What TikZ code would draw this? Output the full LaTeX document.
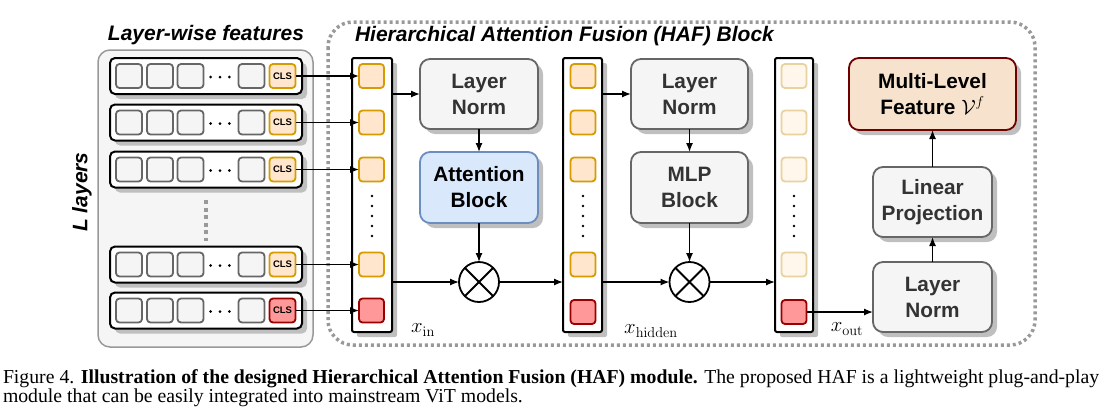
\documentclass[tikz,border=0pt]{standalone}
\usepackage[no-math]{fontspec}
\setmainfont{Liberation Serif}
\setsansfont{Liberation Sans}
\usetikzlibrary{arrows.meta,shadows,calc}
\definecolor{cgray}{HTML}{666666}
\definecolor{cfill}{HTML}{F5F5F5}
\definecolor{ctext}{HTML}{333333}
\definecolor{corange}{HTML}{D79B00}
\definecolor{cpeach}{HTML}{FFE6CC}
\definecolor{cdred}{HTML}{990000}
\definecolor{cpink}{HTML}{FF9999}
\definecolor{cfadeb}{HTML}{E8D29F}
\definecolor{cfadef}{HTML}{FFF6EC}
\definecolor{cblue}{HTML}{DAE8FC}
\definecolor{cblueb}{HTML}{6C8EBF}
\definecolor{cmlf}{HTML}{F7E3CD}
\definecolor{cmlfb}{HTML}{6F0000}
\definecolor{cpanel}{HTML}{999999}
\begin{document}
\begin{tikzpicture}[x=1pt,y=-1pt,
  every node/.style={inner sep=0pt,outer sep=0pt},
  font=\sffamily\bfseries,
  sh/.style={drop shadow={shadow xshift=5pt,shadow yshift=-5pt,fill=black!25,opacity=1}},
  rowbox/.style={draw=black,line width=2pt,fill=white,rounded corners=5pt,minimum width=192pt,minimum height=36pt,sh},
  tok/.style={draw=cgray,fill=cfill,line width=1.8pt,rounded corners=3.5pt,minimum width=26pt,minimum height=24pt},
  clstok/.style={tok,draw=corange,fill=cpeach,font=\sffamily\bfseries\fontsize{9.5}{10}\selectfont},
  clsred/.style={clstok,draw=cdred,fill=cpink},
  colbox/.style={draw=black,line width=2pt,fill=white,rounded corners=2pt,minimum height=274pt,sh},
  ctok/.style={tok,minimum width=25pt,draw=corange,fill=cpeach},
  ctokred/.style={ctok,draw=cdred,fill=cpink},
  ctokfade/.style={ctok,draw=cfadeb,fill=cfadef},
  blk/.style={draw=cgray,fill=cfill,line width=1.8pt,rounded corners=10pt,minimum width=118pt,minimum height=70pt,align=center,text=ctext,font=\sffamily\bfseries\fontsize{20.8}{26}\selectfont,sh},
  arr/.style={line width=1.3pt,-{Latex[length=9pt,width=7pt]}},
  mult/.style={circle,draw=black,line width=1.8pt,fill=white,minimum size=40pt},
  title/.style={font=\sffamily\bfseries\itshape\fontsize{21}{24}\selectfont},
  lab/.style={font=\fontsize{20}{20}\selectfont},
]
\useasboundingbox (0,0) rectangle (1118,408);

% HAF container
\draw[cpanel,line width=3.5pt,dash pattern=on 3pt off 3pt,rounded corners=25pt] (328,22) rectangle (1035,345);
\node[title,anchor=west] (haft) at (355,36) {Hierarchical Attention Fusion (HAF) Block};

% Left panel
\draw[cpanel,fill=cfill,line width=1.5pt,rounded corners=12pt] (98,50) rectangle (313,347);
\node[title] (lwt) at (206,35) {Layer-wise features};
\node[title,rotate=90] (ll) at (82,192) {L layers};

% rows
\foreach \i/\y in {1/76,2/122.5,3/169.5,4/264.5,5/310.5}{
  \node[rowbox] (r\i) at (206,\y) {};
  \node[tok] (ta\i) at (129,\y) {};
  \node[tok] (tb\i) at (160,\y) {};
  \node[tok] (tc\i) at (190.5,\y) {};
  \node[tok] (td\i) at (251.5,\y) {};
  \fill (210.7,\y+1) circle (1.5pt) (220,\y+1) circle (1.5pt) (229.3,\y+1) circle (1.5pt);
}
\foreach \i/\y in {1/76,2/122.5,3/169.5,4/264.5}{
  \node[clstok] (c\i) at (282.5,\y) {CLS};
}
\node[clsred] (c5) at (282.5,310.5) {CLS};
\draw[cpanel,line width=4pt,dash pattern=on 4pt off 3.5pt] (206,200) -- (206,241);

% columns
\node[colbox,minimum width=40pt] (xin) at (372,195) {};
\node[colbox,minimum width=39pt] (hid) at (582.5,195) {};
\node[colbox,minimum width=38pt] (xout) at (794,195) {};
\foreach \i/\y in {1/76,2/122.5,3/169.5,4/264.5}{
  \node[ctok] (xa\i) at (371.5,\y) {};
  \node[ctok] (hb\i) at (583,\y) {};
  \node[ctokfade] (oc\i) at (794,\y) {};
}
\node[ctokred] (xa5) at (371.5,310.5) {};
\node[ctokred] (hb5) at (583,312) {};
\node[ctokred] (oc5) at (794,312) {};
\foreach \x in {372,583,794}{
  \foreach \yy in {196,206,216,226,236}{
    \fill (\x,\yy) circle (1.4pt);
  }
}
\foreach \i in {1,...,5}{
  \draw[arr] (c\i.east) -- (xa\i.west);
}

% blocks
\node[blk] (ln1) at (479,94) {Layer\\Norm};
\node[blk,fill=cblue,draw=cblueb,text=black,minimum height=71pt] (att) at (479,187.5) {Attention\\Block};
\node[mult] (m1) at (479,282) {};
\draw[line width=1.8pt] (m1.north west) -- (m1.south east) (m1.north east) -- (m1.south west);
\node[blk,minimum width=117pt] (ln2) at (689.5,94) {Layer\\Norm};
\node[blk,minimum width=117pt,minimum height=71pt] (mlp) at (689.5,187.5) {MLP\\Block};
\node[mult] (m2) at (689.5,282) {};
\draw[line width=1.8pt] (m2.north west) -- (m2.south east) (m2.north east) -- (m2.south west);

\node[blk,fill=cmlf,draw=cmlfb,text=black,minimum width=167pt,minimum height=72pt] (mlf) at (932.5,94) {Multi-Level\\Feature $\mathcal{V}^f$};
\node[blk,minimum width=119pt] (lp) at (932.5,202) {Linear\\Projection};
\node[blk,minimum width=119pt] (ln3) at (932.5,297) {Layer\\Norm};

% connectors
\draw[arr] (ln1.west -| xin.east) -- (ln1.west);
\draw[arr] (m1.west -| xin.east) -- (m1.west);
\draw[arr] (ln1.south) -- (att.north);
\draw[arr] (att.south) -- (m1.north);
\draw[arr] (m1.east) -- (m1.east -| hid.west);
\draw[arr] (ln2.west -| hid.east) -- (ln2.west);
\draw[arr] (m2.west -| hid.east) -- (m2.west);
\draw[arr] (ln2.south) -- (mlp.north);
\draw[arr] (mlp.south) -- (m2.north);
\draw[arr] (m2.east) -- (m2.east -| xout.west);
\draw[arr] (oc5.east) -- (oc5.east -| ln3.west);
\draw[arr] (ln3.north) -- (lp.south);
\draw[arr] (lp.north) -- (mlf.south);

% labels
\node[lab] (lxin) at (423,330) {$x_{\mathrm{in}}$};
\node[lab] (lxh) at (651,331) {$x_{\mathrm{hidden}}$};
\node[lab] (lxo) at (847,329) {$x_{\mathrm{out}}$};

% caption
\node[font=\rmfamily\mdseries\fontsize{19.75}{22}\selectfont,anchor=base west] (cap1) at (3,383) {Figure 4. \textbf{Illustration of the designed Hierarchical Attention Fusion (HAF) module.} The proposed HAF is a lightweight plug-and-play};
\node[font=\rmfamily\mdseries\fontsize{19.75}{22}\selectfont,anchor=base west] (cap2) at (3,402) {module that can be easily integrated into mainstream ViT models.};
\end{tikzpicture}
\end{document}
